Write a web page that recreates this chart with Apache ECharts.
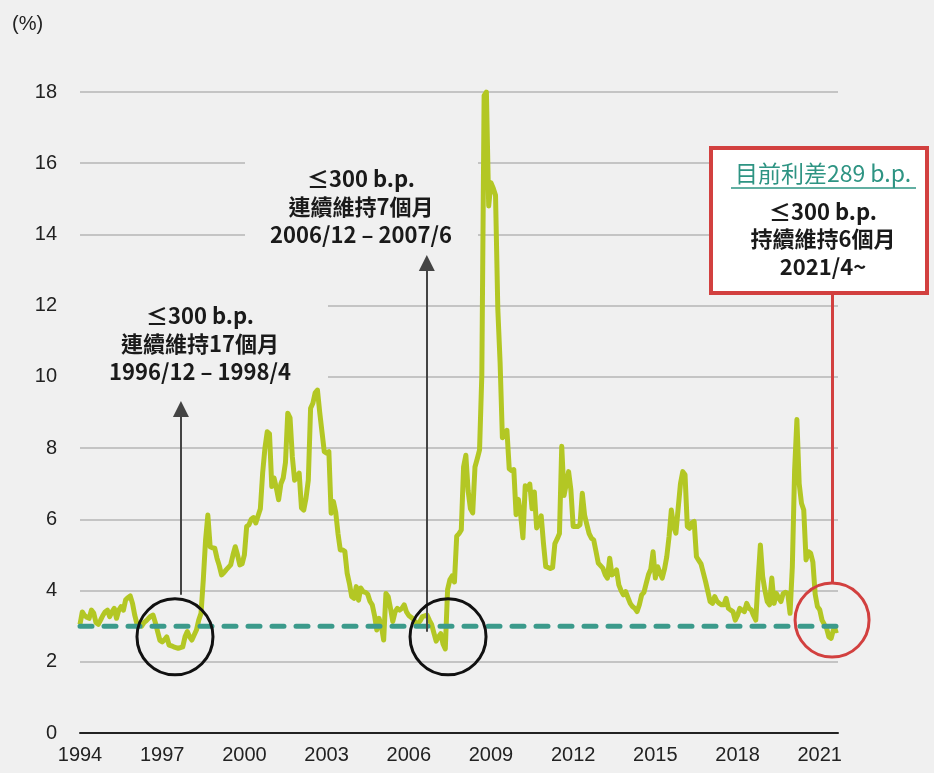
<!DOCTYPE html>
<html>
<head>
<meta charset="utf-8">
<title>高收益債利差</title>
<script src="https://cdn.jsdelivr.net/npm/echarts@6/dist/echarts.min.js"></script>
<style>
    html, body { margin: 0; padding: 0; background: #f0f0f0; }
    #chart { width: 934px; height: 773px; }
</style>
</head>
<body>
<div id="chart"></div>
<script>
// 月資料 (%), 1994/1 ~ 2021/9
const s1994 = [3.05, 3.4, 3.3, 3.25, 3.22, 3.45, 3.37, 3.1, 3.05, 3.17, 3.3, 3.4];
const s1995 = [3.45, 3.27, 3.4, 3.5, 3.22, 3.45, 3.55, 3.45, 3.74, 3.8, 3.85, 3.64];
const s1996 = [3.3, 3.05, 3.02, 3.0, 3.1, 3.15, 3.22, 3.28, 3.31, 3.1, 2.85, 2.6];
const s1997 = [2.56, 2.62, 2.7, 2.47, 2.45, 2.42, 2.4, 2.38, 2.4, 2.42, 2.7, 2.85];
const s1998 = [2.7, 2.61, 2.75, 2.89, 3.17, 3.36, 4.3, 5.42, 6.12, 5.23, 5.2, 5.19];
const s1999 = [4.91, 4.7, 4.44, 4.5, 4.58, 4.65, 4.72, 5.0, 5.23, 5.0, 4.72, 4.75];
const s2000 = [5.0, 5.8, 5.85, 6.0, 6.05, 5.9, 6.1, 6.3, 7.3, 8.0, 8.46, 8.4];
const s2001 = [6.92, 7.16, 6.88, 6.55, 7.0, 7.16, 7.6, 8.98, 8.85, 7.76, 7.1, 7.2];
const s2002 = [7.3, 6.32, 6.26, 6.6, 7.1, 9.12, 9.26, 9.55, 9.63, 9.0, 8.45, 7.9];
const s2003 = [7.86, 7.9, 6.17, 6.5, 6.2, 5.6, 5.14, 5.14, 5.1, 4.49, 4.2, 3.83];
const s2004 = [3.78, 4.11, 3.73, 4.07, 3.97, 3.95, 3.9, 3.7, 3.6, 3.3, 2.89, 3.22];
const s2005 = [3.0, 2.61, 3.92, 3.83, 3.5, 3.13, 3.4, 3.5, 3.45, 3.5, 3.6, 3.4];
const s2006 = [3.3, 3.25, 3.2, 3.1, 3.08, 3.15, 3.27, 3.29, 3.31, 3.17, 3.05, 2.81];
const s2007 = [2.58, 2.7, 2.79, 2.5, 2.36, 4.03, 4.3, 4.41, 4.24, 5.53, 5.6, 5.7];
const s2008 = [7.47, 7.8, 6.8, 6.3, 6.18, 7.47, 7.7, 7.95, 10.06, 17.9, 18.0, 14.8];
const s2009 = [15.45, 15.3, 15.1, 11.9, 10.4, 8.29, 8.4, 8.5, 7.42, 7.37, 7.4, 6.13];
const s2010 = [6.56, 6.13, 5.48, 6.94, 6.85, 6.99, 6.3, 6.77, 5.76, 5.9, 6.1, 5.32];
const s2011 = [4.67, 4.65, 4.62, 4.65, 5.32, 5.45, 5.6, 8.05, 6.67, 7.0, 7.34, 6.83];
const s2012 = [5.8, 5.8, 5.8, 5.85, 6.73, 6.12, 5.85, 5.6, 5.47, 5.42, 5.1, 4.77];
const s2013 = [4.7, 4.63, 4.45, 4.35, 4.91, 4.44, 4.5, 4.58, 4.16, 4.0, 3.88, 3.97];
const s2014 = [3.8, 3.64, 3.55, 3.5, 3.41, 3.6, 3.88, 3.95, 4.2, 4.45, 4.6, 5.09];
const s2015 = [4.35, 4.67, 4.5, 4.35, 4.6, 4.95, 5.51, 6.26, 5.8, 5.61, 6.31, 7.0];
const s2016 = [7.34, 7.25, 5.8, 5.75, 5.9, 5.94, 4.95, 4.85, 4.75, 4.5, 4.25, 3.97];
const s2017 = [3.69, 3.64, 3.83, 3.7, 3.64, 3.6, 3.6, 3.78, 3.5, 3.45, 3.41, 3.17];
const s2018 = [3.3, 3.5, 3.45, 3.41, 3.64, 3.5, 3.46, 3.3, 3.17, 4.3, 5.28, 4.4];
const s2019 = [4.0, 3.69, 3.6, 4.35, 3.64, 3.92, 3.8, 3.69, 3.92, 3.95, 3.92, 3.36];
const s2020 = [4.67, 7.39, 8.8, 7.0, 6.45, 6.26, 4.86, 5.09, 5.05, 4.8, 3.9, 3.55];
const s2021 = [3.46, 3.17, 3.05, 2.94, 2.7, 2.66, 2.9, 2.87, 2.89];

const startYear = 1994;
const threshold = 3; // 300 b.p.
const yTicks = [0, 2, 4, 6, 8, 10, 12, 14, 16, 18];

const spread = [].concat(s1994, s1995, s1996, s1997, s1998, s1999, s2000, s2001,
    s2002, s2003, s2004, s2005, s2006, s2007, s2008, s2009, s2010, s2011, s2012,
    s2013, s2014, s2015, s2016, s2017, s2018, s2019, s2020, s2021);
const lastIdx = spread.length - 1;
// x 以月份序號表示 (0 = 1994/1)
const lineData = spread.map((v, i) => [i, v]);
const mIdx = (y, m) => (y - startYear) * 12 + (m - 1);

const chart = echarts.init(document.getElementById('chart'));

const txtFont = 'bold 22px "Noto Sans CJK TC", "Noto Sans CJK SC", sans-serif';

const option = {
    backgroundColor: '#f0f0f0',
    animation: false,
    grid: { left: 80, right: 96, top: 92, bottom: 40 },
    xAxis: {
        type: 'value',
        min: 0,
        max: lastIdx,
        interval: 36,
        axisLine: { show: true, lineStyle: { color: '#222', width: 2 } },
        axisTick: { show: false },
        splitLine: { show: false },
        axisLabel: {
            margin: 12,
            color: '#222',
            fontSize: 20,
            fontFamily: 'Liberation Sans, Arial, sans-serif',
            formatter: (v) => String(startYear + Math.round(v / 12))
        }
    },
    yAxis: {
        type: 'value',
        min: yTicks[0],
        max: yTicks[yTicks.length - 1],
        interval: 2,
        axisLine: { show: false },
        axisTick: { show: false },
        splitLine: { lineStyle: { color: '#c4c4c4', width: 2 } },
        axisLabel: {
            margin: 23,
            color: '#222',
            fontSize: 20,
            fontFamily: 'Liberation Sans, Arial, sans-serif'
        }
    },
    graphic: [
        { type: 'text', left: 12, top: 14, style: { text: '(%)', font: '20px "Liberation Sans", Arial, sans-serif', fill: '#222' } },
        // 文字底色，蓋住格線
        { type: 'rect', z: 1, shape: { x: 76, y: 292, width: 252, height: 94 }, style: { fill: '#f0f0f0' } },
        { type: 'rect', z: 1, shape: { x: 245, y: 150, width: 233, height: 100 }, style: { fill: '#f0f0f0' } },
        {
            type: 'text', z: 10, x: 200, y: 344,
            style: {
                text: '≤300 b.p.\n連續維持17個月\n1996/12 – 1998/4',
                font: txtFont, lineHeight: 28, fill: '#1a1a1a',
                textAlign: 'center', textVerticalAlign: 'middle'
            }
        },
        {
            type: 'text', z: 10, x: 361, y: 207,
            style: {
                text: '≤300 b.p.\n連續維持7個月\n2006/12 – 2007/6',
                font: txtFont, lineHeight: 28, fill: '#1a1a1a',
                textAlign: 'center', textVerticalAlign: 'middle'
            }
        },
        // 右上框
        {
            type: 'rect', z: 20,
            shape: { x: 711, y: 148, width: 216, height: 145 },
            style: { fill: '#ffffff', stroke: '#d2403f', lineWidth: 4 }
        },
        {
            type: 'text', z: 21, x: 823, y: 173,
            style: {
                text: '目前利差289 b.p.',
                font: '23px "Noto Sans CJK TC", sans-serif', fill: '#2e9483',
                textAlign: 'center', textVerticalAlign: 'middle'
            }
        },
        {
            type: 'line', z: 21,
            shape: { x1: 731, y1: 188, x2: 916, y2: 188 },
            style: { stroke: '#2e9483', lineWidth: 1.5 }
        },
        {
            type: 'text', z: 21, x: 823, y: 239,
            style: {
                text: '≤300 b.p.\n持續維持6個月\n2021/4~',
                font: txtFont, lineHeight: 27.5, fill: '#1a1a1a',
                textAlign: 'center', textVerticalAlign: 'middle'
            }
        }
    ],
    series: [
        {
            name: '利差',
            type: 'line',
            z: 3,
            data: lineData,
            showSymbol: false,
            lineStyle: { color: '#b3c724', width: 5, join: 'round' }
        },
        {
            name: '300 b.p.',
            type: 'line',
            z: 4,
            data: [[0, threshold], [lastIdx, threshold]],
            showSymbol: false,
            lineStyle: { color: '#3b9a8b', width: 5, type: [12, 12], cap: 'round' }
        },
        {
            name: '箭頭',
            type: 'line',
            z: 6,
            data: [],
            markLine: {
                silent: true,
                symbol: ['none', 'triangle'],
                symbolSize: [16, 16],
                label: { show: false },
                lineStyle: { color: '#444', width: 2, type: 'solid' },
                data: [
                    [{ coord: [mIdx(1997, 9) + 0.2, 3.88] }, { coord: [mIdx(1997, 9) + 0.2, 9.1] }],
                    [{ coord: [mIdx(2006, 9) - 0.1, 2.84] }, { coord: [mIdx(2006, 9) - 0.1, 13.2] }]
                ]
            }
        },
        {
            name: '紅線',
            type: 'line',
            z: 6,
            data: [],
            markLine: {
                silent: true,
                symbol: ['none', 'none'],
                label: { show: false },
                lineStyle: { color: '#d2403f', width: 3, type: 'solid' },
                data: [
                    [{ coord: [329.4, 4.21] }, { coord: [329.4, 12.36] }]
                ]
            }
        },
        {
            name: '圈',
            type: 'line',
            z: 8,
            data: [],
            markPoint: {
                silent: true,
                symbol: 'circle',
                label: { show: false },
                data: [
                    { coord: [41.6, 2.7], symbolSize: 76, itemStyle: { color: 'rgba(0,0,0,0)', borderColor: '#111', borderWidth: 3 } },
                    { coord: [161.2, 2.7], symbolSize: 76, itemStyle: { color: 'rgba(0,0,0,0)', borderColor: '#111', borderWidth: 3 } },
                    { coord: [329.4, 3.17], symbolSize: 74, itemStyle: { color: 'rgba(0,0,0,0)', borderColor: '#d2403f', borderWidth: 3 } }
                ]
            }
        }
    ]
};

chart.setOption(option);
</script>
</body>
</html>
